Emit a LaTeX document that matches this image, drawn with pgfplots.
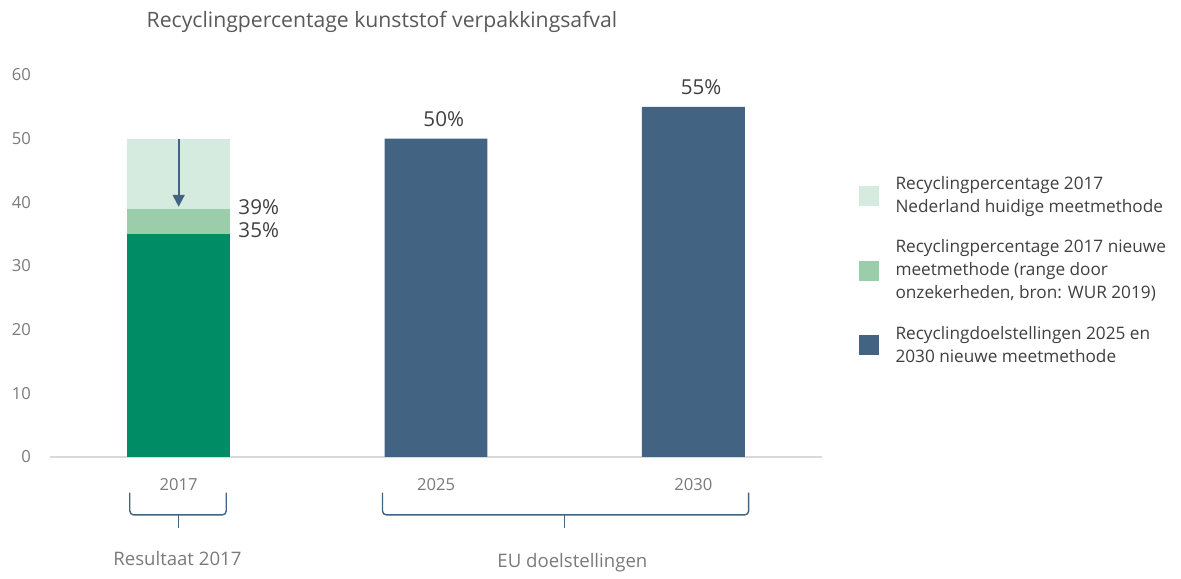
\documentclass[border=0pt]{standalone}
\usepackage{fontspec}
\setmainfont{Open Sans}
\usepackage{pgfplots}
\pgfplotsset{compat=1.18}
\usetikzlibrary{arrows.meta}

\definecolor{donkergroen}{HTML}{008C64}
\definecolor{middengroen}{HTML}{9CCDAB}
\definecolor{lichtgroen}{HTML}{D6EBDF}
\definecolor{doelblauw}{HTML}{426381}
\definecolor{titelgrijs}{HTML}{595959}
\definecolor{tickgrijs}{HTML}{7A7A7A}
\definecolor{labelgrijs}{HTML}{404040}
\definecolor{lijngrijs}{HTML}{D9D9D9}

\begin{document}
\begin{tikzpicture}
\begin{axis}[
    at={(0,0)}, anchor=south west,
    scale only axis,
    width=386pt, height=191pt,
    xmin=-0.5, xmax=2.5,
    ymin=0, ymax=60,
    ybar, bar shift=0pt,
    bar width=0.4,
    clip=false,
    axis lines*=left,
    separate axis lines,
    x axis line style={draw=lijngrijs, line width=0.6pt},
    y axis line style={draw=none},
    major tick length=0pt,
    xtick={0,1,2},
    xticklabels={2017,2025,2030},
    ytick={0,10,...,60},
    /pgf/number format/assume math mode=true,
    ticklabel style={font=\fontsize{8.3}{10}\selectfont, text=tickgrijs},
    xticklabel style={yshift=-7pt},
    yticklabel style={xshift=-6pt},
    legend image code/.code={\fill[#1] (0pt,-5pt) rectangle (10pt,5pt);},
    legend style={at={(1.039,0.745)}, anchor=north west, draw=none,
        font=\fontsize{8.6}{11.5}\selectfont, text=labelgrijs,
        nodes={align=left, inner sep=0pt},
        row sep=12pt, column sep=8.5pt},
    legend cell align=left,
]
% 2017: huidige meetmethode 50 %, nieuwe meetmethode 35-39 %
\addplot[fill=lichtgroen, draw=none] coordinates {(0,50)};
\addlegendentry{Recyclingpercentage 2017\\Nederland huidige meetmethode}
\addplot[fill=middengroen, draw=none] coordinates {(0,39)};
\addlegendentry{Recyclingpercentage 2017 nieuwe\\meetmethode (range door\\onzekerheden, bron: WUR 2019)}
\addplot[fill=donkergroen, draw=none, forget plot] coordinates {(0,35)};
% EU-doelstellingen
\addplot[fill=doelblauw, draw=none] coordinates {(1,50) (2,55)};
\addlegendentry{Recyclingdoelstellingen 2025 en\\2030 nieuwe meetmethode}

% pijl van huidige naar nieuwe meetmethode
\draw[doelblauw, line width=0.9pt, -{Triangle[length=6pt, width=6pt]}]
    (axis cs:0,50) -- (axis cs:0,39.3);

% waardelabels
\begin{scope}[font=\fontsize{10.3}{12}\selectfont, text=labelgrijs]
\node[anchor=west] at (axis cs:0.205,39.3) {39\%};
\node[anchor=west] at (axis cs:0.205,35.6) {35\%};
\node at (axis cs:1.03,53.1) {50\%};
\node at (axis cs:2.03,58.1) {55\%};
\end{scope}

% titel
\node[font=\fontsize{10.6}{13}\selectfont, text=titelgrijs] at (axis cs:0.79,68.3)
    {Recyclingpercentage kunststof verpakkingsafval};

% accolades onder de categorieën
\draw[doelblauw, line width=0.7pt, rounded corners=2pt]
    (axis cs:-0.19,-5.6) -- (axis cs:-0.19,-9.1) -- (axis cs:0.185,-9.1) -- (axis cs:0.185,-5.6);
\draw[doelblauw, line width=0.7pt] (axis cs:0,-9.1) -- (axis cs:0,-11.2);
\draw[doelblauw, line width=0.7pt, rounded corners=2pt]
    (axis cs:0.792,-5.6) -- (axis cs:0.792,-9.1) -- (axis cs:2.215,-9.1) -- (axis cs:2.215,-5.6);
\draw[doelblauw, line width=0.7pt] (axis cs:1.5,-9.1) -- (axis cs:1.5,-11.2);

\begin{scope}[font=\fontsize{9.3}{12}\selectfont, text=tickgrijs]
\node at (axis cs:-0.005,-15.9) {Resultaat 2017};
\node at (axis cs:1.53,-16.6) {EU doelstellingen};
\end{scope}
\end{axis}
\useasboundingbox (-25pt,-59pt) rectangle (565.5pt,228.5pt);
\end{tikzpicture}
\end{document}
